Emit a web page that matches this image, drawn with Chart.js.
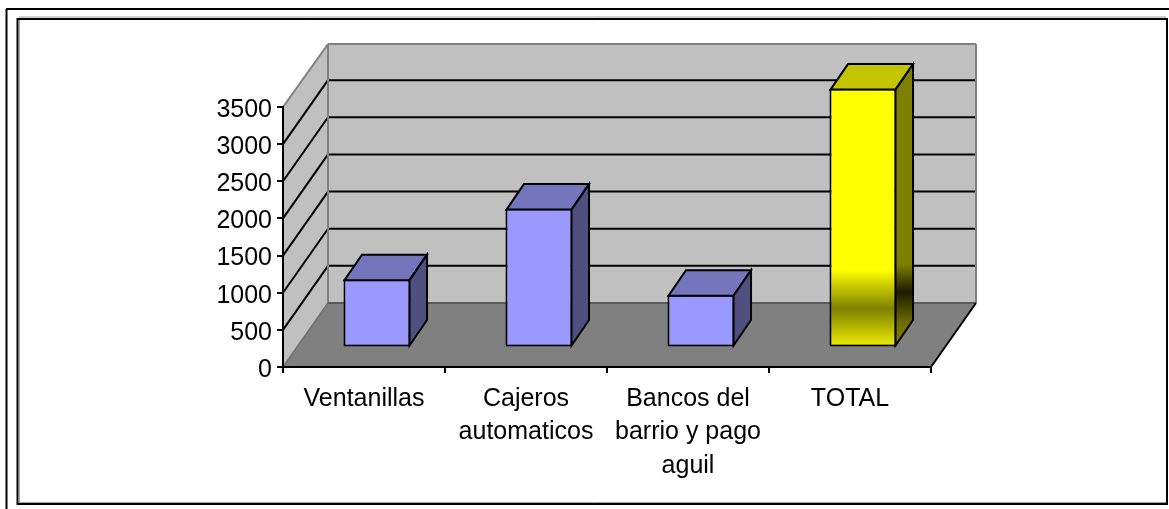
<!DOCTYPE html>
<html>
<head>
<meta charset="utf-8">
<title>Chart</title>
<script src="https://cdn.jsdelivr.net/npm/chart.js@4"></script>
<style>
    html, body { margin: 0; padding: 0; background: #fff; overflow: hidden; }
    canvas { display: block; }
</style>
</head>
<body>
<canvas id="chart" width="1169" height="509"></canvas>
<script>
// Data
const categories = [
    ['Ventanillas'],
    ['Cajeros', 'automaticos'],
    ['Bancos del', 'barrio y pago', 'aguil'],
    ['TOTAL']
];
const values = [920, 1870, 710, 3485];
const yMax = 3500;
const yStep = 500;

// Fake 3D settings
const WALL_DX = 45, WALL_DY = 64;   // depth of the box
const BAR_DX = 13, BAR_DY = 19.5;   // where bars stand on the floor
const BAR_SIDE_DX = 17.5, BAR_SIDE_DY = 25.5;
const BORDER = 2;

const purple = { top: '#7575bd', side: '#4f4f80' };
const yellow = { top: '#c4c400', side: '#808000' };

function poly(ctx, pts, fill, stroke, width) {
    ctx.beginPath();
    pts.forEach((p, i) => i ? ctx.lineTo(p[0], p[1]) : ctx.moveTo(p[0], p[1]));
    ctx.closePath();
    if (fill) { ctx.fillStyle = fill; ctx.fill(); }
    if (stroke) { ctx.strokeStyle = stroke; ctx.lineWidth = width; ctx.lineJoin = 'miter'; ctx.stroke(); }
}

function line(ctx, x1, y1, x2, y2, color, width) {
    ctx.beginPath();
    ctx.moveTo(x1, y1);
    ctx.lineTo(x2, y2);
    ctx.strokeStyle = color;
    ctx.lineWidth = width;
    ctx.stroke();
}

// Frames, walls and floor go under everything else
const boxPlugin = {
    id: 'box',
    beforeDraw(chart) {
        const { ctx, chartArea: a, scales: { y } } = chart;
        ctx.save();
        ctx.fillStyle = '#fff';
        ctx.fillRect(0, 0, chart.width, chart.height);

        // outer + inner border
        line(ctx, 6.5, 509, 6.5, 9, '#000', 2);
        line(ctx, 6, 9, 1169, 9, '#000', 2);
        line(ctx, 19, 17, 1166, 17, '#a0a0a0', 1);
        line(ctx, 19.5, 20, 19.5, 503, '#a0a0a0', 1);
        line(ctx, 19, 502.5, 1166, 502.5, '#a0a0a0', 1);
        ctx.strokeStyle = '#000';
        ctx.lineWidth = 2;
        ctx.strokeRect(17.5, 19, 1149.5, 485);

        const bx = a.left + WALL_DX, by = a.bottom - WALL_DY;
        const topWall = y.getPixelForValue(yMax) - WALL_DY + 1;

        poly(ctx, [[a.left, a.top], [bx, topWall], [bx, by], [a.left, a.bottom]], '#c0c0c0');
        poly(ctx, [[bx, topWall], [a.right + WALL_DX, topWall], [a.right + WALL_DX, by], [bx, by]], '#c0c0c0');
        poly(ctx, [[a.left, a.bottom], [bx, by], [a.right + WALL_DX, by], [a.right, a.bottom]], '#808080');

        // gridlines on both walls
        y.ticks.forEach(t => {
            if (t.value === 0 || t.value === yMax) return;
            const py = y.getPixelForValue(t.value);
            line(ctx, a.left, py, bx, py - WALL_DY, '#000', 2);
            line(ctx, bx, py - WALL_DY, a.right + WALL_DX, py - WALL_DY, '#000', 2);
        });

        // box edges
        line(ctx, a.left, a.top, bx, topWall, '#808080', 2);
        line(ctx, bx, topWall, a.right + WALL_DX, topWall, '#808080', 2);
        line(ctx, bx, topWall, bx, by, '#808080', 2);
        line(ctx, a.right + WALL_DX, topWall, a.right + WALL_DX, by, '#808080', 2);
        line(ctx, a.left, a.bottom, bx, by, '#707070', 1.5);
        line(ctx, bx, by, a.right + WALL_DX, by, '#5a5a5a', 2);
        line(ctx, a.right, a.bottom, a.right + WALL_DX, by, '#000', 2);
        ctx.restore();
    },
    beforeDatasetDraw(chart) {
        // bars stand part way back on the floor
        chart.ctx.save();
        chart.ctx.translate(BAR_DX, -BAR_DY);
    },
    afterDatasetDraw(chart, args) {
        const { ctx } = chart;
        ctx.restore();
        args.meta.data.forEach((bar, i) => {
            // native border sits inside the bar, so follow the middle of that line
            const inset = BORDER / 2;
            const l = bar.x - bar.width / 2 + BAR_DX + inset;
            const r = bar.x + bar.width / 2 + BAR_DX - inset;
            const t = bar.y - BAR_DY + inset;
            const b = bar.base - BAR_DY - inset;
            const isTotal = i === values.length - 1;
            const colors = isTotal ? yellow : purple;
            let side = colors.side;
            if (isTotal) {
                const g = ctx.createLinearGradient(0, t - BAR_SIDE_DY, 0, b);
                g.addColorStop(0, yellow.side);
                g.addColorStop(0.71, yellow.side);
                g.addColorStop(0.81, '#1c1c00');
                g.addColorStop(0.92, '#6e6e00');
                g.addColorStop(1, '#808000');
                side = g;
            }
            poly(ctx, [[l, t], [l + BAR_SIDE_DX, t - BAR_SIDE_DY], [r + BAR_SIDE_DX, t - BAR_SIDE_DY], [r, t]], colors.top, '#000', BORDER);
            poly(ctx, [[r, t], [r + BAR_SIDE_DX, t - BAR_SIDE_DY], [r + BAR_SIDE_DX, b - BAR_SIDE_DY], [r, b]], side, '#000', BORDER);
        });
    }
};

function barFill(context) {
    if (context.dataIndex !== values.length - 1) return '#9999ff';
    const { ctx, scales: { y } } = context.chart;
    const top = y.getPixelForValue(values[context.dataIndex]);
    const base = y.getPixelForValue(0);
    const g = ctx.createLinearGradient(0, top, 0, base);
    g.addColorStop(0, '#ffff00');
    g.addColorStop(0.7, '#ffff00');
    g.addColorStop(0.85, '#808000');
    g.addColorStop(1, '#f0f000');
    return g;
}

const tickFont = { family: '"Liberation Sans", Arial, sans-serif', size: 25, lineHeight: 1.34 };

new Chart(document.getElementById('chart').getContext('2d'), {
    type: 'bar',
    data: {
        labels: categories,
        datasets: [{
            data: values,
            backgroundColor: barFill,
            borderColor: '#000',
            borderWidth: BORDER,
            borderSkipped: false,
            barPercentage: 1,
            categoryPercentage: 0.414,
            clip: false
        }]
    },
    options: {
        responsive: false,
        animation: false,
        layout: { padding: { top: 107, right: 238, left: 0, bottom: 0 } },
        plugins: { legend: { display: false }, tooltip: { enabled: false } },
        scales: {
            x: {
                afterFit: s => { s.height = 142; },
                border: { color: '#000', width: 2 },
                grid: { offset: true, drawOnChartArea: false, color: '#000', tickColor: '#000', tickLength: 6, lineWidth: 2 },
                ticks: { color: '#000', font: tickFont, maxRotation: 0, minRotation: 0, autoSkip: false, padding: 9 }
            },
            y: {
                min: 0,
                max: yMax,
                afterFit: s => { s.width = 283; },
                border: { color: '#000', width: 2 },
                grid: { drawOnChartArea: false, color: '#000', tickColor: '#000', tickLength: 6, lineWidth: 2 },
                ticks: { color: '#000', font: tickFont, stepSize: yStep, padding: 5, labelOffset: 3, callback: v => String(v) }
            }
        }
    },
    plugins: [boxPlugin]
});
</script>
</body>
</html>
